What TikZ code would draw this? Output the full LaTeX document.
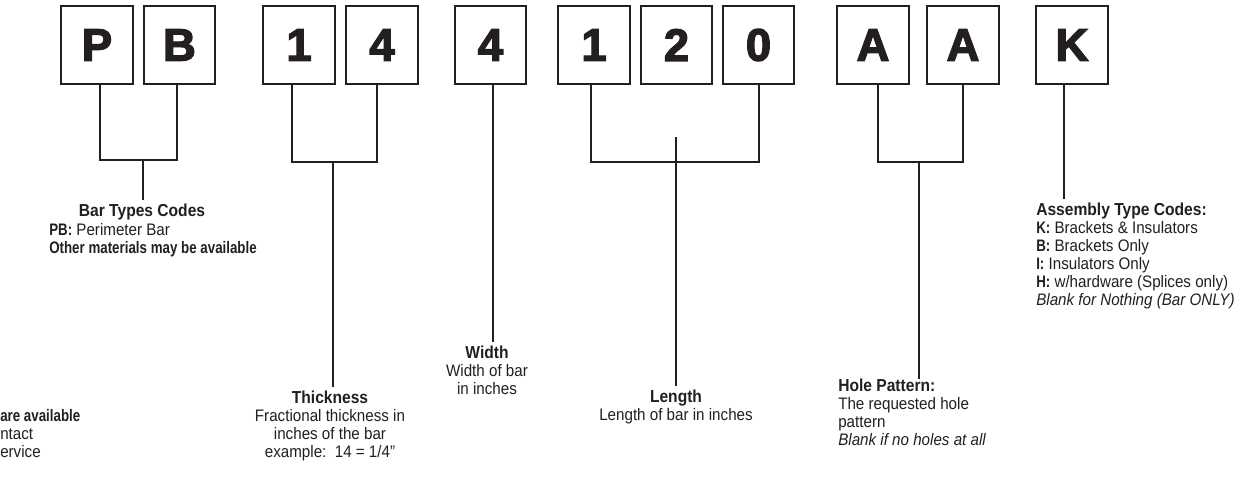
\documentclass[tikz,border=0pt]{standalone}
\usepackage{fontspec}
\setmainfont{Liberation Sans}[UprightFeatures={FakeStretch=0.91}, ItalicFeatures={FakeStretch=0.91}, BoldFeatures={FakeStretch=0.80}]
\newfontfamily\boxfont{Liberation Sans}[FakeBold=3]
\newfontfamily\headfont{Liberation Sans}[UprightFont=*, BoldFeatures={FakeStretch=0.90}]
\newcommand{\hd}[1]{{\headfont\bfseries\fontsize{13pt}{13.5pt}\selectfont #1}}
\definecolor{ink}{HTML}{231F20}
\tikzset{
  codebox/.style={draw=ink, line width=1.5pt, minimum width=53.5pt, minimum height=59pt,
    inner sep=0pt, text=ink, font=\boxfont\bfseries\fontsize{34pt}{34pt}\selectfont},
  lbl/.style={inner sep=0pt, text=ink, font=\fontsize{12.5pt}{13.5pt}\selectfont},
  conn/.style={draw=ink, line width=1.5pt},
}
\begin{document}
\begin{tikzpicture}[x=0.75pt,y=-0.75pt]
\useasboundingbox (0,0) rectangle (1260,481);
\fill[white] (0,0) rectangle (1260,481);
% code boxes
\node[codebox] (P)  at (97,45)   {P};
\node[codebox] (B)  at (179.5,45) {B};
\node[codebox] (T1) at (299,45)  {1};
\node[codebox] (T4) at (382,45)  {4};
\node[codebox] (W)  at (490.5,45) {4};
\node[codebox] (L1) at (594,45)  {1};
\node[codebox] (L2) at (676.5,45) {2};
\node[codebox] (L0) at (758.5,45) {0};
\node[codebox] (H1) at (873,45)  {A};
\node[codebox] (H2) at (963,45)  {A};
\node[codebox] (K)  at (1072,45) {K};
% labels
\node[lbl, anchor=north] (bt) at (142,204) {\hd{Bar Types Codes}};
\node[lbl, anchor=north west, align=left] (btb) at (49,223) {\textbf{PB:} Perimeter Bar\\\textbf{Other materials may be available}};
\node[lbl, anchor=north west, align=left] (oth) at (0,409) {\textbf{are available}\\ntact\\ervice};
\node[lbl, anchor=north, align=center] (thk) at (330,391) {\hd{Thickness}\\Fractional thickness in\\inches of the bar\\example:\ \ 14 = 1/4”};
\node[lbl, anchor=north, align=center] (wid) at (487,346) {\hd{Width}\\Width of bar\\in inches};
\node[lbl, anchor=north, align=center] (len) at (676,390) {\hd{Length}\\Length of bar in inches};
\node[lbl, anchor=north west, align=left] (hole) at (838,379) {\hd{Hole Pattern:}\\The requested hole\\pattern\\\textit{Blank if no holes at all}};
\node[lbl, anchor=north west, align=left] (asm) at (1036,203) {\hd{Assembly Type Codes:}\\\textbf{K:} Brackets \& Insulators\\\textbf{B:} Brackets Only\\\textbf{I:} Insulators Only\\\textbf{H:} w/hardware (Splices only)\\\textit{Blank for Nothing (Bar ONLY)}};
% connector joints
\coordinate (cP) at (100,160);  \coordinate (cB) at (177,160);  \coordinate (cPB) at (143,160);
\coordinate (c1) at (292,162);  \coordinate (c4) at (377,162);  \coordinate (c14) at (333,162);
\coordinate (cW) at (493,0);
\coordinate (cL1) at (591,162); \coordinate (cL0) at (759,162); \coordinate (cL) at (676,137);
\coordinate (cA1) at (878,162); \coordinate (cA2) at (963,162); \coordinate (cAA) at (919,162);
\coordinate (cK) at (1064,0);
% connectors
\draw[conn] (cP |- P.south) -- (cP) -- (cB) -- (cB |- B.south);
\draw[conn, shorten >=3pt] (cPB) -- (cPB |- bt.north);
\draw[conn] (c1 |- T1.south) -- (c1) -- (c4) -- (c4 |- T4.south);
\draw[conn, shorten >=3pt] (c14) -- (c14 |- thk.north);
\draw[conn, shorten >=3pt] (cW |- W.south) -- (cW |- wid.north);
\draw[conn] (cL1 |- L1.south) -- (cL1) -- (cL0) -- (cL0 |- L0.south);
\draw[conn, shorten >=3pt] (cL) -- (cL |- len.north);
\draw[conn] (cA1 |- H1.south) -- (cA1) -- (cA2) -- (cA2 |- H2.south);
\draw[conn] (cAA) -- (cAA |- hole.north);
\draw[conn, shorten >=3pt] (cK |- K.south) -- (cK |- asm.north);
\end{tikzpicture}
\end{document}
